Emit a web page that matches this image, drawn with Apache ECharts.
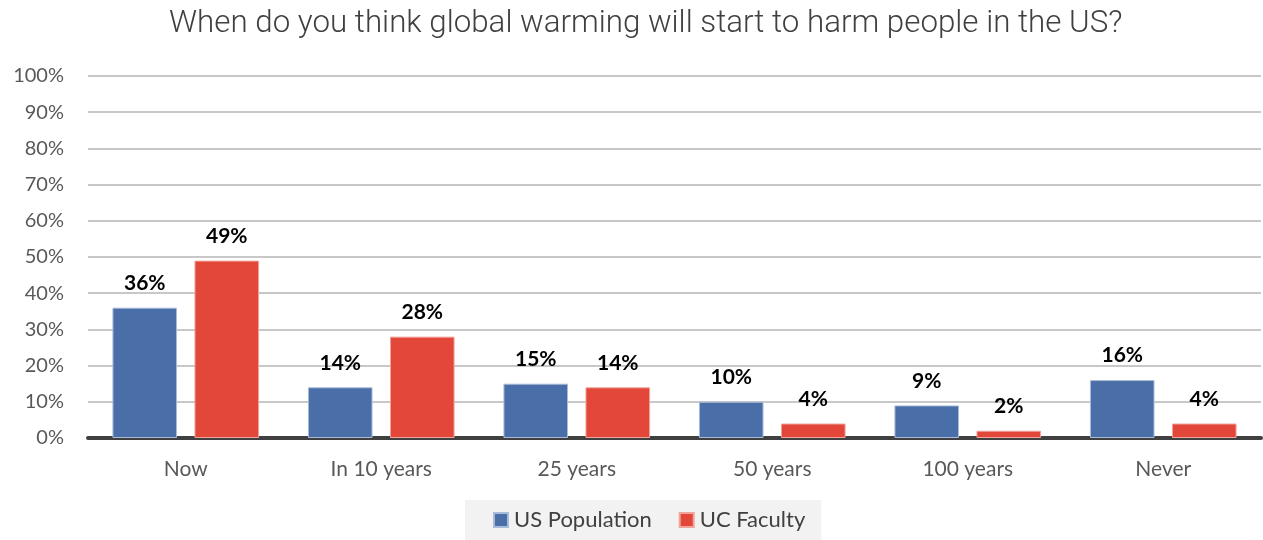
<!DOCTYPE html>
<html>
<head>
<meta charset="utf-8">
<script src="https://cdn.jsdelivr.net/npm/echarts@6/dist/echarts.min.js"></script>
<style>
  html, body { margin: 0; padding: 0; background: #ffffff; }
  #chart { width: 1263px; height: 540px; }
</style>
</head>
<body>
<div id="chart"></div>
<script>
// Survey: when will global warming start to harm people in the US?
const categories = ['Now', 'In 10 years', '25 years', '50 years', '100 years', 'Never'];
const usPopulation = [36, 14, 15, 10, 9, 16];
const ucFaculty = [49, 28, 14, 4, 2, 4];
const seriesNames = ['US Population', 'UC Faculty'];
const titleText = 'When do you think global warming will start to harm people in the US?';

const chart = echarts.init(document.getElementById('chart'));

const labelStyle = {
  show: true,
  position: 'top',
  distance: 14,
  formatter: p => p.value + '%',
  color: '#000000',
  fontFamily: 'Lato',
  fontWeight: 'bold',
  fontSize: 21
};

chart.setOption({
  animation: false,
  title: {
    text: titleText,
    left: 164,
    top: 4,
    textStyle: {
      fontFamily: 'Roboto',
      fontWeight: 300,
      fontSize: 31.3,
      color: '#404040'
    }
  },
  grid: { left: 88, right: 2, top: 76, bottom: 102 },
  legend: {
    bottom: 0,
    left: 465,
    itemWidth: 14,
    itemHeight: 14,
    itemGap: 27,
    padding: [9, 16, 9, 28],
    backgroundColor: '#f2f2f2',
    icon: 'rect',
    textStyle: { fontFamily: 'Lato', fontSize: 22, color: '#404040', padding: [0, 0, 0, 1] },
    data: seriesNames
  },
  xAxis: {
    type: 'category',
    data: categories,
    axisTick: { show: false },
    axisLine: { lineStyle: { color: '#404040', width: 4 } },
    axisLabel: { color: '#595959', fontFamily: 'Lato', fontSize: 21, margin: 21 }
  },
  yAxis: {
    type: 'value',
    min: 0,
    max: 100,
    interval: 10,
    axisLabel: { formatter: '{value}%', color: '#595959', fontFamily: 'Lato', fontSize: 20, margin: 24 },
    splitLine: { lineStyle: { color: '#c8c8c8', width: 2 } },
    axisLine: { show: false },
    axisTick: { show: false }
  },
  series: [
    {
      name: seriesNames[0],
      type: 'bar',
      data: usPopulation,
      barCategoryGap: '25%',
      barGap: '27%',
      itemStyle: { color: '#4a6ea8', borderColor: '#a9bbd8', borderWidth: 1 },
      label: labelStyle
    },
    {
      name: seriesNames[1],
      type: 'bar',
      data: ucFaculty,
      itemStyle: { color: '#e2473a', borderColor: '#f0a39b', borderWidth: 1 },
      label: labelStyle
    }
  ]
});
</script>
</body>
</html>
